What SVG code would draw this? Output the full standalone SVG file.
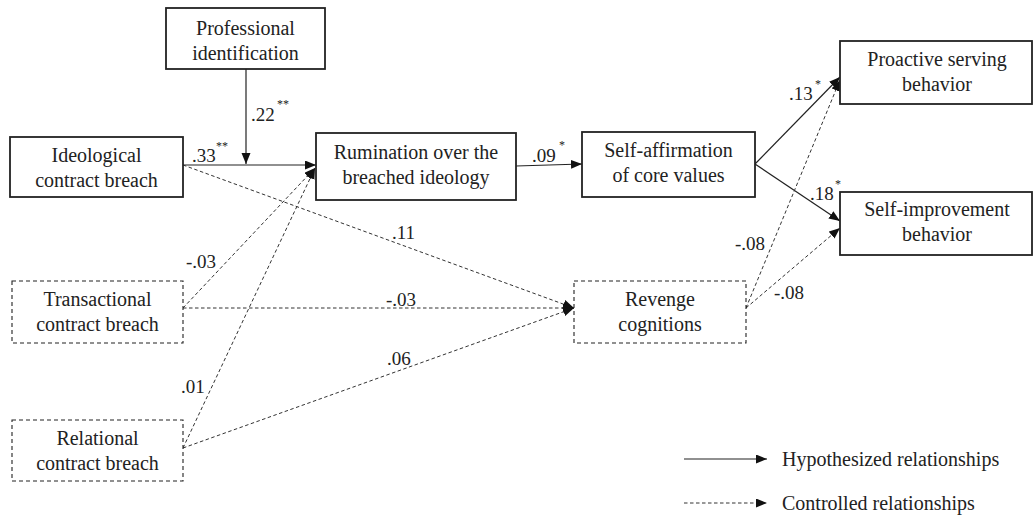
<svg xmlns="http://www.w3.org/2000/svg" width="1034" height="515" viewBox="0 0 1034 515">
<defs>
  <marker id="arr" markerUnits="userSpaceOnUse" markerWidth="12" markerHeight="10" refX="11" refY="4.5" orient="auto">
    <path d="M0,0 L11,4.5 L0,9 z" fill="#111" stroke="none"/>
  </marker>
</defs>
<rect width="1034" height="515" fill="#fff"/>

<g id="connectors" fill="none" marker-end="url(#arr)">
  <g stroke="#222" stroke-width="1.2">
    <line x1="246" y1="69" x2="246" y2="164"/>
    <line x1="183" y1="165" x2="316" y2="165"/>
    <line x1="516" y1="166" x2="582" y2="164"/>
    <line x1="755" y1="164" x2="840" y2="77"/>
    <line x1="755" y1="164" x2="840" y2="221"/>
  </g>
  <g stroke="#333" stroke-width="1" stroke-dasharray="3.5 2.5">
    <line x1="183" y1="308" x2="315" y2="168"/>
    <line x1="183" y1="448" x2="315" y2="168"/>
    <line x1="183" y1="165" x2="574" y2="308"/>
    <line x1="183" y1="308" x2="574" y2="308"/>
    <line x1="183" y1="448" x2="574" y2="308"/>
    <line x1="746" y1="308" x2="840" y2="80"/>
    <line x1="746" y1="308" x2="840" y2="228"/>
  </g>
</g>

<g id="labels" fill="#222" font-family="Liberation Serif" font-size="19">
  <text x="251" y="121">.22</text><text font-size="12" x="277" y="108">**</text>
  <text x="192" y="162">.33</text><text font-size="12" x="216" y="150">**</text>
  <text x="392" y="239">.11</text>
  <text x="186" y="268">-.03</text>
  <text x="386" y="306">-.03</text>
  <text x="387" y="365">.06</text>
  <text x="181" y="393">.01</text>
  <text x="532" y="162">.09</text><text font-size="12" x="559" y="149">*</text>
  <text x="789" y="100">.13</text><text font-size="12" x="815" y="88">*</text>
  <text x="810" y="200">.18</text><text font-size="12" x="835" y="188">*</text>
  <text x="735" y="250">-.08</text>
  <text x="774" y="299">-.08</text>
</g>

<g font-family="Liberation Serif" font-size="20" text-anchor="middle">
<g id="professional-identification">
  <rect x="166" y="8" width="159" height="61" fill="#fff" stroke="#222" stroke-width="1.8"/>
  <text fill="#222" x="245.5" y="35">Professional</text>
  <text fill="#222" x="245.5" y="60">identification</text>
</g>
<g id="ideological-breach">
  <rect x="10" y="137" width="173" height="60" fill="#fff" stroke="#222" stroke-width="1.8"/>
  <text fill="#222" x="96.5" y="162">Ideological</text>
  <text fill="#222" x="96.5" y="187">contract breach</text>
</g>
<g id="rumination">
  <rect x="316" y="133" width="200" height="67" fill="#fff" stroke="#222" stroke-width="1.8"/>
  <text fill="#222" x="416" y="159">Rumination over the</text>
  <text fill="#222" x="416" y="184">breached ideology</text>
</g>
<g id="self-affirmation">
  <rect x="582" y="132" width="173" height="65" fill="#fff" stroke="#222" stroke-width="1.8"/>
  <text fill="#222" x="668.5" y="157">Self-affirmation</text>
  <text fill="#222" x="668.5" y="182">of core values</text>
</g>
<g id="proactive-serving">
  <rect x="840" y="41" width="192" height="63" fill="#fff" stroke="#222" stroke-width="1.8"/>
  <text fill="#222" x="937" y="66">Proactive serving</text>
  <text fill="#222" x="937" y="91">behavior</text>
</g>
<g id="self-improvement">
  <rect x="840" y="192" width="192" height="63" fill="#fff" stroke="#222" stroke-width="1.8"/>
  <text fill="#222" x="937" y="216">Self-improvement</text>
  <text fill="#222" x="937" y="241">behavior</text>
</g>
<g id="transactional-breach">
  <rect x="12" y="281" width="171" height="62" fill="#fff" stroke="#222" stroke-width="1.1" stroke-dasharray="4 3"/>
  <text fill="#222" x="97.5" y="306">Transactional</text>
  <text fill="#222" x="97.5" y="331">contract breach</text>
</g>
<g id="relational-breach">
  <rect x="12" y="420" width="171" height="61" fill="#fff" stroke="#222" stroke-width="1.1" stroke-dasharray="4 3"/>
  <text fill="#222" x="97.5" y="445">Relational</text>
  <text fill="#222" x="97.5" y="470">contract breach</text>
</g>
<g id="revenge-cognitions">
  <rect x="574" y="281" width="172" height="62" fill="#fff" stroke="#222" stroke-width="1.1" stroke-dasharray="4 3"/>
  <text fill="#222" x="660" y="306">Revenge</text>
  <text fill="#222" x="660" y="331">cognitions</text>
</g>
</g>

<g id="legend" fill="none" font-family="Liberation Serif" font-size="20">
  <line x1="684" y1="459" x2="767" y2="459" stroke="#222" stroke-width="1.2" marker-end="url(#arr)"/>
  <text fill="#222" x="782" y="466">Hypothesized relationships</text>
  <line x1="684" y1="503" x2="767" y2="503" stroke="#333" stroke-width="1" stroke-dasharray="3.5 2.5" marker-end="url(#arr)"/>
  <text fill="#222" x="782" y="510">Controlled relationships</text>
</g>
</svg>
